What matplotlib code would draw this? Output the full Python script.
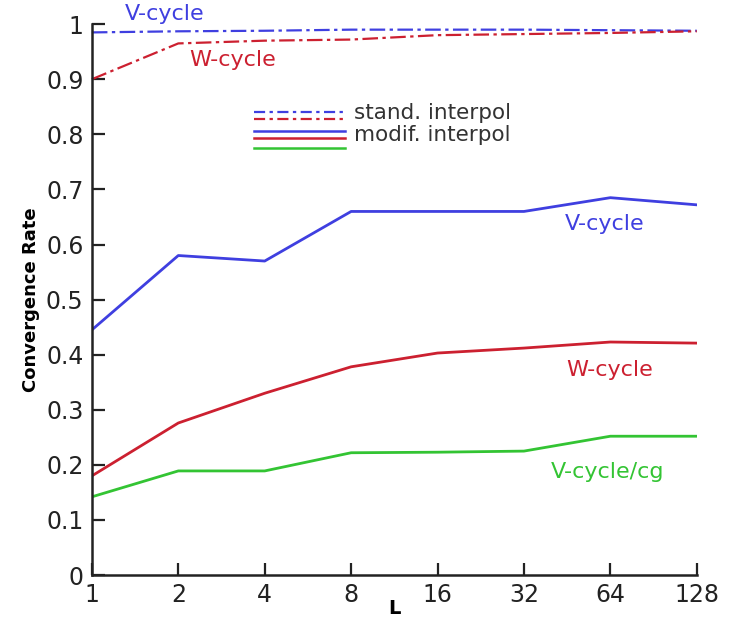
import numpy as np
import matplotlib
matplotlib.use("Agg")
import matplotlib.pyplot as plt
from matplotlib.ticker import FixedLocator, NullLocator

# levels L (log2 axis)
levels = [1, 2, 4, 8, 16, 32, 64, 128]

# standard interpolation
v_std = [0.985, 0.987, 0.988, 0.990, 0.990, 0.990, 0.989, 0.988]
w_std = [0.900, 0.965, 0.970, 0.972, 0.980, 0.982, 0.984, 0.987]

# modified interpolation
v_mod = [0.445, 0.580, 0.570, 0.660, 0.660, 0.660, 0.685, 0.672]
w_mod = [0.180, 0.276, 0.330, 0.378, 0.403, 0.412, 0.423, 0.421]
vcg_mod = [0.142, 0.189, 0.189, 0.222, 0.223, 0.225, 0.252, 0.252]

y_ticks = [0, 0.1, 0.2, 0.3, 0.4, 0.5, 0.6, 0.7, 0.8, 0.9, 1]
y_tick_labels = ["0", "0.1", "0.2", "0.3", "0.4", "0.5", "0.6", "0.7", "0.8", "0.9", "1"]

BLUE = "#3f3fe0"
RED = "#cc2030"
GREEN = "#33c433"

plt.rcParams["font.family"] = ["DejaVu Sans"]

fig = plt.figure(figsize=(7.35, 6.19), dpi=100)
ax = fig.add_axes([0.125, 0.071, 0.823, 0.890])

ax.set_xscale("log", base=2)

dashdot = (0, (7, 2, 1.5, 2))
ax.plot(levels, v_std, color=BLUE, lw=1.6, linestyle=dashdot, clip_on=False)
ax.plot(levels, w_std, color=RED, lw=1.6, linestyle=dashdot, clip_on=False)

ax.plot(levels, v_mod, color=BLUE, lw=2.0)
ax.plot(levels, w_mod, color=RED, lw=2.0)
ax.plot(levels, vcg_mod, color=GREEN, lw=2.0)

# curve labels
ax.text(1.30, 1.018, "V-cycle", color=BLUE, fontsize=16, va="center", ha="left", clip_on=False)
ax.text(2.19, 0.935, "W-cycle", color=RED, fontsize=16, va="center", ha="left")
ax.text(44.4, 0.637, "V-cycle", color=BLUE, fontsize=16, va="center", ha="left")
ax.text(44.9, 0.372, "W-cycle", color=RED, fontsize=16, va="center", ha="left")
ax.text(39.7, 0.187, "V-cycle/cg", color=GREEN, fontsize=16, va="center", ha="left")

# hand-made legend with stacked line samples
tr = ax.transAxes
lx = [0.268, 0.418]
ax.plot(lx, [0.840, 0.840], color=BLUE, lw=1.6, linestyle=(0, (5, 2, 1.5, 2)), transform=tr)
ax.plot(lx, [0.828, 0.828], color=RED, lw=1.6, linestyle=(0, (5, 2, 1.5, 2)), transform=tr)
ax.plot(lx, [0.806, 0.806], color=BLUE, lw=1.8, transform=tr)
ax.plot(lx, [0.793, 0.793], color=RED, lw=1.8, transform=tr)
ax.plot(lx, [0.775, 0.775], color=GREEN, lw=1.8, transform=tr)
ax.text(0.433, 0.838, "stand. interpol", fontsize=15.5, color="#333333", va="center", transform=tr)
ax.text(0.433, 0.799, "modif. interpol", fontsize=15.5, color="#333333", va="center", transform=tr)

ax.set_xlim(1, 128)
ax.set_ylim(0, 1)
ax.xaxis.set_major_locator(FixedLocator(levels))
ax.set_xticklabels([str(v) for v in levels])
ax.xaxis.set_minor_locator(NullLocator())
ax.set_yticks(y_ticks)
ax.set_yticklabels(y_tick_labels)

for side in ["top", "right"]:
    ax.spines[side].set_visible(False)
for side in ["left", "bottom"]:
    ax.spines[side].set_linewidth(1.8)
    ax.spines[side].set_color("#222222")

ax.tick_params(axis="both", direction="in", length=9, width=1.6, labelsize=17,
               colors="#222222", pad=6)

ax.set_ylabel("Convergence Rate", fontsize=13, fontweight="bold", labelpad=4)
ax.set_xlabel("L", fontsize=14, fontweight="bold", labelpad=-6)

fig.savefig("out.png", dpi=100)
